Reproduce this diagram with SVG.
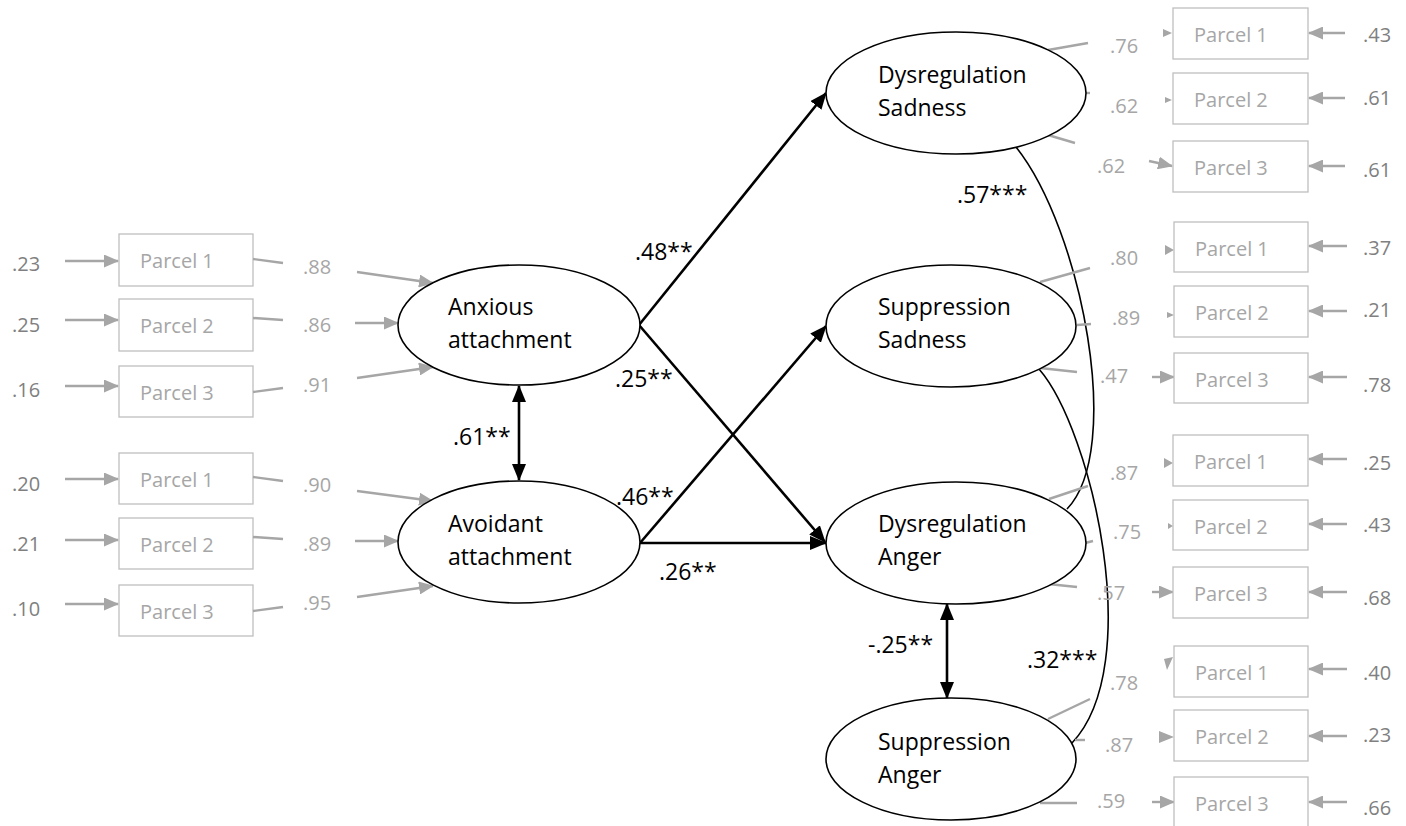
<svg xmlns="http://www.w3.org/2000/svg" width="1406" height="826" viewBox="0 0 1406 826">
  <style>
    .bg { fill: #ffffff; }
    .latent { fill: #ffffff; stroke: #000000; stroke-width: 1.6; }
    .lname { font-family: "Open Sans", "Liberation Sans", sans-serif; font-size: 23px; fill: #000000; }
    .coef { font-family: "Open Sans", "Liberation Sans", sans-serif; font-size: 23px; fill: #000000; }
    .box { fill: #ffffff; stroke: #bfbfbf; stroke-width: 1.3; }
    .ptxt { font-family: "Open Sans", "Liberation Sans", sans-serif; font-size: 20px; fill: #a6a6a6; }
    .load { font-family: "Open Sans", "Liberation Sans", sans-serif; font-size: 20px; fill: #a6a6a6; }
    .err { font-family: "Open Sans", "Liberation Sans", sans-serif; font-size: 20px; fill: #808080; }
    .gline { stroke: #a6a6a6; stroke-width: 2.4; fill: none; }
    .garrow { stroke: #a6a6a6; stroke-width: 2.4; fill: none; marker-end: url(#gh); }
    .ghead { fill: #a6a6a6; }
    .path { stroke: #000000; stroke-width: 2.6; fill: none; marker-end: url(#bh); }
    .cov2 { stroke: #000000; stroke-width: 2.6; fill: none; marker-start: url(#bh); marker-end: url(#bh); }
    .corr { stroke: #000000; stroke-width: 1.6; fill: none; }
  </style>
  <defs>
    <marker id="bh" markerUnits="userSpaceOnUse" markerWidth="17" markerHeight="14" refX="16" refY="7" orient="auto-start-reverse">
      <path d="M0,0 L17,7 L0,14 z" fill="#000000"/>
    </marker>
    <marker id="gh" markerUnits="userSpaceOnUse" markerWidth="15" markerHeight="13" refX="14" refY="6.5" orient="auto">
      <path d="M0,0 L15,6.5 L0,13 z" fill="#a6a6a6"/>
    </marker>
  </defs>
  <rect class="bg" x="0" y="0" width="1406" height="826"/>

  <!-- structural paths, covariances and correlations -->
  <g id="connectors">
    <line class="path" x1="639" y1="325" x2="826" y2="93"/>
    <line class="path" x1="639" y1="325" x2="825" y2="542"/>
    <line class="path" x1="640" y1="543" x2="826" y2="326"/>
    <line class="path" x1="640" y1="543" x2="826" y2="543"/>
    <line class="cov2" x1="519" y1="386" x2="519" y2="480"/>
    <line class="cov2" x1="947" y1="604" x2="947" y2="698"/>
    <path class="corr" d="M1016,147 C1082,230 1124,450 1067,509"/>
    <path class="corr" d="M1039,369 C1092,430 1146,665 1072,743"/>
    <text class="coef" x="635" y="260">.48**</text>
    <text class="coef" x="615" y="387">.25**</text>
    <text class="coef" x="616" y="505">.46**</text>
    <text class="coef" x="659" y="580">.26**</text>
    <text class="coef" x="453" y="445">.61**</text>
    <text class="coef" x="868" y="653">-.25**</text>
    <text class="coef" x="957" y="203">.57***</text>
    <text class="coef" x="1027" y="668">.32***</text>
  </g>

  <!-- indicators of anxious attachment -->
  <g id="anx-indicators">
    <rect class="box" x="119" y="234" width="134" height="52"/>
    <text class="ptxt" x="140" y="268">Parcel 1</text>
    <text class="err" x="12" y="271">.23</text>
    <line class="garrow" x1="65" y1="261" x2="118" y2="261"/>
    <line class="gline" x1="253" y1="259" x2="283" y2="263"/>
    <text class="load" x="303" y="274">.88</text>
    <line class="garrow" x1="357" y1="272" x2="433" y2="283"/>

    <rect class="box" x="119" y="299" width="134" height="52"/>
    <text class="ptxt" x="140" y="333">Parcel 2</text>
    <text class="err" x="12" y="332">.25</text>
    <line class="garrow" x1="65" y1="320" x2="118" y2="320"/>
    <line class="gline" x1="253" y1="318" x2="283" y2="320"/>
    <text class="load" x="303" y="332">.86</text>
    <line class="garrow" x1="355" y1="323" x2="398" y2="323"/>

    <rect class="box" x="119" y="366" width="134" height="51"/>
    <text class="ptxt" x="140" y="400">Parcel 3</text>
    <text class="err" x="12" y="397">.16</text>
    <line class="garrow" x1="65" y1="386" x2="118" y2="386"/>
    <line class="gline" x1="253" y1="392" x2="283" y2="388"/>
    <text class="load" x="303" y="392">.91</text>
    <line class="garrow" x1="357" y1="378" x2="433" y2="367"/>
  </g>

  <!-- indicators of avoidant attachment -->
  <g id="avo-indicators">
    <rect class="box" x="119" y="453" width="134" height="51"/>
    <text class="ptxt" x="140" y="487">Parcel 1</text>
    <text class="err" x="12" y="491">.20</text>
    <line class="garrow" x1="65" y1="479" x2="118" y2="479"/>
    <line class="gline" x1="253" y1="477" x2="283" y2="481"/>
    <text class="load" x="303" y="492">.90</text>
    <line class="garrow" x1="357" y1="491" x2="433" y2="501"/>

    <rect class="box" x="119" y="518" width="134" height="51"/>
    <text class="ptxt" x="140" y="552">Parcel 2</text>
    <text class="err" x="12" y="551">.21</text>
    <line class="garrow" x1="65" y1="540" x2="118" y2="540"/>
    <line class="gline" x1="253" y1="537" x2="283" y2="539"/>
    <text class="load" x="303" y="551">.89</text>
    <line class="garrow" x1="355" y1="541" x2="398" y2="541"/>

    <rect class="box" x="119" y="585" width="134" height="51"/>
    <text class="ptxt" x="140" y="619">Parcel 3</text>
    <text class="err" x="12" y="616">.10</text>
    <line class="garrow" x1="65" y1="604" x2="118" y2="604"/>
    <line class="gline" x1="253" y1="611" x2="283" y2="607"/>
    <text class="load" x="303" y="610">.95</text>
    <line class="garrow" x1="357" y1="597" x2="433" y2="586"/>
  </g>

  <!-- indicators of dysregulation sadness -->
  <g id="dsad-indicators">
    <line class="gline" x1="1048" y1="50" x2="1088" y2="43"/>
    <text class="load" x="1110" y="53">.76</text>
    <polygon class="ghead" points="1163,29 1172,33 1163,37"/>
    <rect class="box" x="1173" y="8" width="135" height="51"/>
    <text class="ptxt" x="1194" y="42">Parcel 1</text>
    <line class="garrow" x1="1345" y1="33" x2="1309" y2="33"/>
    <text class="err" x="1363" y="42">.43</text>

    <line class="gline" x1="1085" y1="93" x2="1090" y2="93"/>
    <text class="load" x="1110" y="113">.62</text>
    <polygon class="ghead" points="1165,97 1172,100 1165,103"/>
    <rect class="box" x="1173" y="73" width="135" height="51"/>
    <text class="ptxt" x="1194" y="107">Parcel 2</text>
    <line class="garrow" x1="1345" y1="98" x2="1309" y2="98"/>
    <text class="err" x="1363" y="105">.61</text>

    <line class="gline" x1="1048" y1="135" x2="1075" y2="143"/>
    <text class="load" x="1097" y="173">.62</text>
    <line class="garrow" x1="1149" y1="161" x2="1172" y2="166"/>
    <rect class="box" x="1173" y="141" width="135" height="51"/>
    <text class="ptxt" x="1194" y="175">Parcel 3</text>
    <line class="garrow" x1="1345" y1="166" x2="1309" y2="166"/>
    <text class="err" x="1363" y="177">.61</text>
  </g>

  <!-- indicators of suppression sadness -->
  <g id="ssad-indicators">
    <line class="gline" x1="1040" y1="282" x2="1090" y2="268"/>
    <text class="load" x="1110" y="265">.80</text>
    <polygon class="ghead" points="1165,245 1174,250 1165,255"/>
    <rect class="box" x="1174" y="222" width="134" height="50"/>
    <text class="ptxt" x="1195" y="256">Parcel 1</text>
    <line class="garrow" x1="1347" y1="246" x2="1309" y2="246"/>
    <text class="err" x="1363" y="255">.37</text>

    <line class="gline" x1="1077" y1="325" x2="1091" y2="324"/>
    <text class="load" x="1112" y="325">.89</text>
    <polygon class="ghead" points="1167,312 1174,315 1167,318"/>
    <rect class="box" x="1174" y="286" width="134" height="51"/>
    <text class="ptxt" x="1195" y="320">Parcel 2</text>
    <line class="garrow" x1="1347" y1="311" x2="1309" y2="311"/>
    <text class="err" x="1363" y="317">.21</text>

    <line class="gline" x1="1040" y1="368" x2="1077" y2="372"/>
    <text class="load" x="1100" y="383">.47</text>
    <line class="garrow" x1="1152" y1="377" x2="1174" y2="377"/>
    <rect class="box" x="1174" y="353" width="134" height="50"/>
    <text class="ptxt" x="1195" y="387">Parcel 3</text>
    <line class="garrow" x1="1347" y1="377" x2="1309" y2="377"/>
    <text class="err" x="1363" y="392">.78</text>
  </g>

  <!-- indicators of dysregulation anger -->
  <g id="dang-indicators">
    <line class="gline" x1="1049" y1="499" x2="1088" y2="486"/>
    <text class="load" x="1110" y="480">.87</text>
    <polygon class="ghead" points="1164,458 1173,463 1164,468"/>
    <rect class="box" x="1173" y="435" width="135" height="51"/>
    <text class="ptxt" x="1194" y="469">Parcel 1</text>
    <line class="garrow" x1="1347" y1="459" x2="1309" y2="459"/>
    <text class="err" x="1363" y="470">.25</text>

    <line class="gline" x1="1085" y1="543" x2="1093" y2="541"/>
    <text class="load" x="1113" y="539">.75</text>
    <polygon class="ghead" points="1168,523 1173,526 1168,529"/>
    <rect class="box" x="1173" y="500" width="135" height="50"/>
    <text class="ptxt" x="1194" y="534">Parcel 2</text>
    <line class="garrow" x1="1347" y1="524" x2="1309" y2="524"/>
    <text class="err" x="1363" y="532">.43</text>

    <line class="gline" x1="1048" y1="584" x2="1077" y2="587"/>
    <text class="load" x="1097" y="600">.57</text>
    <line class="garrow" x1="1152" y1="592" x2="1173" y2="592"/>
    <rect class="box" x="1173" y="567" width="135" height="51"/>
    <text class="ptxt" x="1194" y="601">Parcel 3</text>
    <line class="garrow" x1="1347" y1="592" x2="1309" y2="592"/>
    <text class="err" x="1363" y="605">.68</text>
  </g>

  <!-- indicators of suppression anger -->
  <g id="sang-indicators">
    <line class="gline" x1="1048" y1="719" x2="1090" y2="699"/>
    <text class="load" x="1110" y="690">.78</text>
    <polygon class="ghead" points="1164,659 1173,657 1167,670"/>
    <rect class="box" x="1174" y="646" width="134" height="51"/>
    <text class="ptxt" x="1195" y="680">Parcel 1</text>
    <line class="garrow" x1="1347" y1="669" x2="1309" y2="669"/>
    <text class="err" x="1363" y="680">.40</text>

    <line class="gline" x1="1075" y1="740" x2="1085" y2="740"/>
    <text class="load" x="1105" y="752">.87</text>
    <polygon class="ghead" points="1159,731 1174,737 1159,743"/>
    <rect class="box" x="1174" y="710" width="134" height="51"/>
    <text class="ptxt" x="1195" y="744">Parcel 2</text>
    <line class="garrow" x1="1347" y1="736" x2="1309" y2="736"/>
    <text class="err" x="1363" y="742">.23</text>

    <line class="gline" x1="1040" y1="803" x2="1077" y2="803"/>
    <text class="load" x="1097" y="808">.59</text>
    <line class="garrow" x1="1152" y1="802" x2="1174" y2="802"/>
    <rect class="box" x="1174" y="777" width="134" height="52"/>
    <text class="ptxt" x="1195" y="811">Parcel 3</text>
    <line class="garrow" x1="1347" y1="802" x2="1309" y2="802"/>
    <text class="err" x="1363" y="815">.66</text>
  </g>

  <!-- latent variables -->
  <g id="anxious">
    <ellipse class="latent" cx="519" cy="325" rx="121" ry="60"/>
    <text class="lname" x="448" y="315">Anxious</text>
    <text class="lname" x="448" y="348">attachment</text>
  </g>
  <g id="avoidant">
    <ellipse class="latent" cx="519" cy="542" rx="121" ry="61"/>
    <text class="lname" x="448" y="532">Avoidant</text>
    <text class="lname" x="448" y="565">attachment</text>
  </g>
  <g id="dys-sadness">
    <ellipse class="latent" cx="956" cy="93" rx="130" ry="61"/>
    <text class="lname" x="878" y="83">Dysregulation</text>
    <text class="lname" x="878" y="116">Sadness</text>
  </g>
  <g id="sup-sadness">
    <ellipse class="latent" cx="951" cy="326" rx="125" ry="61"/>
    <text class="lname" x="878" y="315">Suppression</text>
    <text class="lname" x="878" y="348">Sadness</text>
  </g>
  <g id="dys-anger">
    <ellipse class="latent" cx="956" cy="543" rx="130" ry="61"/>
    <text class="lname" x="878" y="532">Dysregulation</text>
    <text class="lname" x="878" y="565">Anger</text>
  </g>
  <g id="sup-anger">
    <ellipse class="latent" cx="951" cy="759" rx="125" ry="61"/>
    <text class="lname" x="878" y="750">Suppression</text>
    <text class="lname" x="878" y="783">Anger</text>
  </g>
</svg>
